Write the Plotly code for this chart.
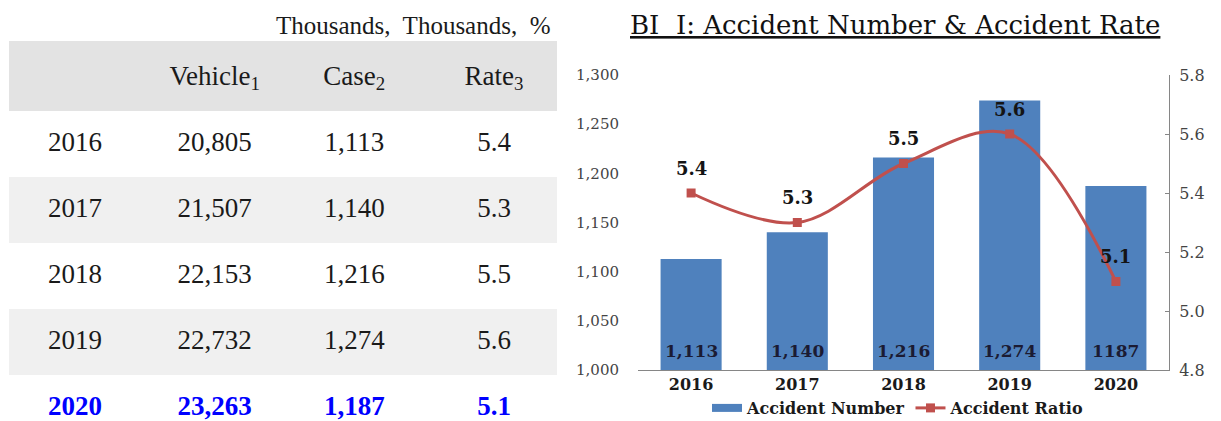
import plotly.graph_objects as go

# ---------------- data ----------------
years = ["2016", "2017", "2018", "2019", "2020"]
vehicles = [20805, 21507, 22153, 22732, 23263]
cases = [1113, 1140, 1216, 1274, 1187]
rates = [5.4, 5.3, 5.5, 5.6, 5.1]
bar_labels = ["1,113", "1,140", "1,216", "1,274", "1187"]
col_headers = ["", "Vehicle<sub>1</sub>", "Case<sub>2</sub>", "Rate<sub>3</sub>"]
units_note = "Thousands,  Thousands,  %"
title_text = "BI  Ⅰ: Accident Number & Accident Rate"
legend_names = ["Accident Number", "Accident Ratio"]
left_ticks = [1000, 1050, 1100, 1150, 1200, 1250, 1300]
right_ticks = [4.8, 5.0, 5.2, 5.4, 5.6, 5.8]

# ---------------- style ----------------
W, H = 1221, 421
TABLE_FONT = "Liberation Serif"
CHART_FONT = "DejaVu Serif"
BAR_COLOR = "#4f81bd"
LINE_COLOR = "#c0504d"
HILITE = "#0000ff"

fig = go.Figure()

# ---------------- table (on its own hidden axes) ----------------
columns = [
    years,
    [f"{v:,}" for v in vehicles],
    [f"{c:,}" for c in cases],
    [f"{r:.1f}" for r in rates],
]
n = len(years)
for j, col in enumerate(columns):
    xs, ys, texts, colors = [], [], [], []
    if col_headers[j]:
        xs.append(j); ys.append(0); texts.append(col_headers[j]); colors.append("#1a1a1a")
    for i, t in enumerate(col):
        xs.append(j)
        ys.append(i + 1)
        if i == n - 1:
            texts.append(f"<b>{t}</b>")
            colors.append(HILITE)
        else:
            texts.append(t)
            colors.append("#1a1a1a")
    fig.add_trace(go.Scatter(
        x=xs, y=ys, text=texts, mode="text", textposition="middle center",
        textfont=dict(family=TABLE_FONT, size=27, color=colors),
        xaxis="x3", yaxis="y3", showlegend=False, hoverinfo="skip"))

tx0, tx1 = -0.4725, 3.451
shapes = [dict(type="rect", xref="x3", yref="y3", x0=tx0, x1=tx1, y0=-0.56, y1=0.5,
               fillcolor="#e3e3e3", line=dict(width=0), layer="below")]
for i in range(1, n + 1):
    if i % 2 == 0:
        shapes.append(dict(type="rect", xref="x3", yref="y3", x0=tx0, x1=tx1,
                           y0=i - 0.5, y1=i + 0.5, fillcolor="#f0f0f0",
                           line=dict(width=0), layer="below"))

annotations = [dict(text=units_note, xref="x3", yref="y3", x=3.422, y=-0.79,
                    xanchor="right", yanchor="middle", showarrow=False,
                    font=dict(family=TABLE_FONT, size=25, color="#1a1a1a"))]

# ---------------- chart ----------------
fig.add_trace(go.Bar(
    x=years, y=cases, name=legend_names[0], marker=dict(color=BAR_COLOR, line=dict(width=0)),
    xaxis="x", yaxis="y", hoverinfo="x+y", showlegend=False))

# legend swatch for the bars (wide flat rectangle, as in the original legend)
fig.add_trace(go.Scatter(
    x=[None], y=[None], name=legend_names[0], mode="lines",
    line=dict(color=BAR_COLOR, width=8), xaxis="x", yaxis="y", hoverinfo="skip"))

fig.add_trace(go.Scatter(
    x=years, y=rates, name=legend_names[1], mode="lines+markers",
    line=dict(color=LINE_COLOR, width=3, shape="spline", smoothing=1.0),
    marker=dict(symbol="square", size=9, color=LINE_COLOR),
    xaxis="x", yaxis="y2"))

# bar value labels at the base of each bar (category index on x)
for i, lab in enumerate(bar_labels):
    annotations.append(dict(text=lab, x=i, y=1000, xref="x", yref="y",
                            yanchor="middle", yshift=19, showarrow=False,
                            font=dict(family=CHART_FONT, size=17, color="#1b1b33", weight="bold")))

# line value labels
for i, r in enumerate(rates):
    annotations.append(dict(text=f"{r:.1f}", x=i, y=r, xref="x", yref="y2",
                            yanchor="middle", yshift=25, showarrow=False,
                            font=dict(family=CHART_FONT, size=18, color="#141414", weight="bold")))

annotations.append(dict(text=f"<u>{title_text}</u>", xref="paper", yref="paper",
                        x=895 / W, y=(H - 25) / H, xanchor="center", yanchor="middle",
                        showarrow=False,
                        font=dict(family=CHART_FONT, size=26, color="#111111")))

fig.update_layout(
    width=W, height=H, margin=dict(l=0, r=0, t=0, b=0, pad=0, autoexpand=False),
    autosize=False,
    paper_bgcolor="white", plot_bgcolor="white",
    bargap=0.425,
    shapes=shapes, annotations=annotations,
    xaxis=dict(domain=[638 / W, 1169 / W], anchor="y", type="category",
               categoryorder="array", categoryarray=years, range=[-0.5, len(years) - 0.5],
               showline=True, linecolor="#868686", linewidth=1, ticks="",
               showgrid=False, zeroline=False, automargin=False,
               tickfont=dict(family=CHART_FONT, size=16, color="#1a1a1a", weight="bold")),
    yaxis=dict(domain=[(H - 370) / H, (H - 75) / H], anchor="x", range=[1000, 1300],
               tickvals=left_ticks, ticktext=[f"{v:,}" for v in left_ticks],
               showline=False, showgrid=False, zeroline=False, ticks="", automargin=False,
               ticklabelstandoff=18,
               tickfont=dict(family=CHART_FONT, size=15, color="#444444")),
    yaxis2=dict(overlaying="y", side="right", anchor="x", range=[4.8, 5.8],
                tickvals=right_ticks, ticktext=[f"{v:.1f}" for v in right_ticks],
                showline=True, linecolor="#868686", linewidth=1, ticks="inside",
                ticklen=4, tickcolor="#868686", showgrid=False, zeroline=False,
                automargin=False, ticklabelstandoff=6,
                tickfont=dict(family=CHART_FONT, size=16, color="#444444")),
    xaxis3=dict(domain=[0, 560 / W], anchor="y3", range=[-0.537, 3.4725], visible=False,
                fixedrange=True, automargin=False),
    yaxis3=dict(domain=[0, 1], anchor="x3", range=[5.197, -1.182], visible=False,
                fixedrange=True, automargin=False),
    legend=dict(orientation="h", x=898 / W, y=(H - 408) / H, xanchor="center",
                yanchor="middle", bgcolor="rgba(0,0,0,0)",
                font=dict(family=CHART_FONT, size=16, color="#1a1a1a", weight="bold"),
                itemwidth=30, tracegroupgap=0),
    showlegend=True,
)

page_fix = "document.body.style.margin='0';document.body.style.overflow='hidden';"
fig.write_html("out.html",
               config={"displayModeBar": False, "responsive": False},
               post_script=page_fix)
